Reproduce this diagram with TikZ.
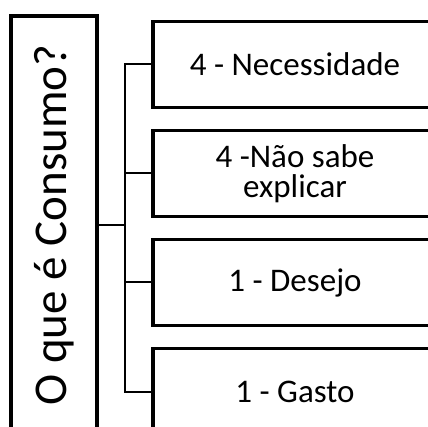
\documentclass[tikz,border=0pt]{standalone}
\usepackage{fontspec}
\setmainfont{Carlito}
\usetikzlibrary{positioning}

\begin{document}
\begin{tikzpicture}[
    node distance=19.5pt,
    font=\fontsize{33}{30.5}\selectfont,
    box/.style={
        draw,
        rectangle,
        line width=3.5pt,
        align=center,
        minimum width=284pt,
        minimum height=86pt,
        inner sep=2pt
    },
    mainbox/.style={
        draw,
        rectangle,
        line width=3.5pt,
        minimum width=418pt,
        minimum height=86pt,
        rotate=90,
        font=\fontsize{47}{50}\selectfont
    },
    link/.style={line width=2pt}
]

\useasboundingbox (0,0) rectangle (428pt,-427pt);

% ----------------------------------------------------------
% NODES
% ----------------------------------------------------------

\node[mainbox] (consumo) at (54pt,-225pt) {O que é Consumo?};

\node[box] (necessidade) at (295pt,-64.5pt) {4 - Necessidade};
\node[box, below=of necessidade] (naosabe) {4 -Não sabe\\explicar};
\node[box, below=of naosabe] (desejo) {1 - Desejo};
\node[box, below=of desejo] (gasto) {1 - Gasto};

\coordinate (hub) at (125pt,-225pt);

% ----------------------------------------------------------
% CONNECTORS
% ----------------------------------------------------------

\draw[link] (consumo.south) -- (hub);
\draw[link] (hub) |- (necessidade.west);
\draw[link] (hub) |- (naosabe.west);
\draw[link] (hub) |- (desejo.west);
\draw[link] (hub) |- (gasto.west);

\end{tikzpicture}
\end{document}
